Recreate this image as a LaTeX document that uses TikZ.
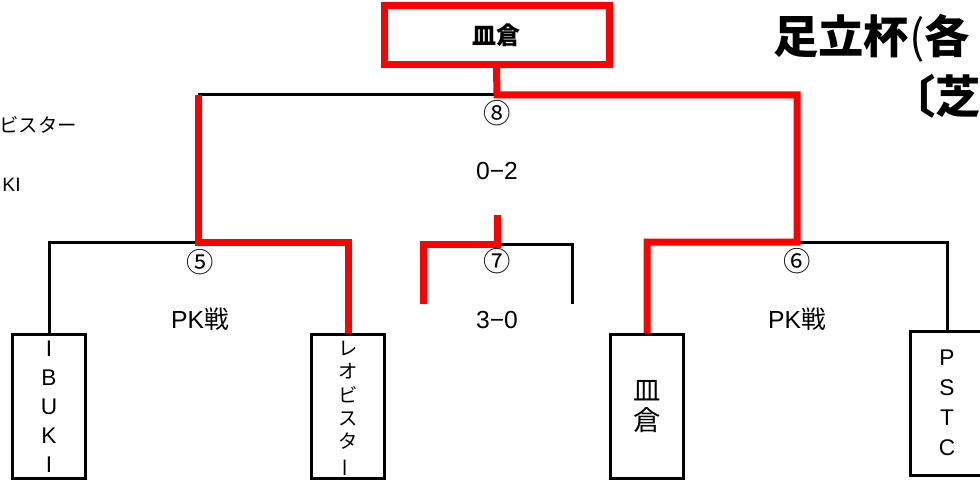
\documentclass[tikz,border=0pt]{standalone}
\usepackage{fontspec}
\setmainfont{Liberation Sans}
\newfontfamily\cjk{Noto Sans CJK JP}
\begin{document}
\begin{tikzpicture}[x=0.75pt,y=-0.75pt,
  blk/.style={draw=black,line width=2.25pt},
  win/.style={draw=red,line width=5.25pt},
  team/.style={draw=black,line width=2.25pt,fill=white,minimum width=55pt,minimum height=108pt,inner sep=0pt,align=center},
  lbl/.style={inner sep=0pt,font=\fontsize{18.5}{20}\selectfont},
  num/.style={inner sep=0pt,font=\cjk\fontsize{20.5}{22}\selectfont},
  side/.style={inner sep=0pt,anchor=east,font=\fontsize{14.5}{18}\selectfont},
  ttl/.style={inner sep=0pt,anchor=west,font=\cjk\fontsize{34}{38}\selectfont\bfseries}]
\useasboundingbox (0,0) rectangle (980,481);
\clip (0,0) rectangle (980,481);
% title
\node[ttl] (title1) at (773,38) {足立杯{\mdseries (}各};
\node[ttl] (title2) at (890,96) {〔芝};
% side texts
\node[side] (sleo) at (77,125) {\cjk ビスター};
\node[side] (sibuki) at (21,185) {KI};
% final box
\node[draw=red,line width=5.25pt,minimum width=168.75pt,minimum height=44.25pt,inner sep=0pt,font=\cjk\fontsize{18}{20}\selectfont\bfseries] (final) at (496.5,35) {皿倉};
% teams
\node[team,font=\fontsize{17}{21.75}\selectfont] (ibuki) at (49,406.5) {I\\B\\U\\K\\I};
\node[team,font=\cjk\fontsize{14.5}{17.5}\selectfont] (leo) at (348,406.5) {レ\\オ\\ビ\\ス\\タ\\\smash{\rotatebox[origin=c]{90}{ー}}};
\node[team,font=\cjk\fontsize{20.5}{22.5}\selectfont] (sara) at (647,406.5) {皿\\倉};
\node[team,font=\fontsize{17}{22.5}\selectfont] (pstc) at (947,403) {P\\S\\T\\C};
% coordinates
\coordinate (j8) at (497,95);
\coordinate (l8) at (198,95);
\coordinate (r8) at (797,95);
\coordinate (j5) at (198,242);
\coordinate (j6) at (797,242);
\coordinate (t7) at (497,215);
\coordinate (j7) at (497,244);
\coordinate (a7) at (423,304);
\coordinate (b7) at (572,304);
% black lines
\draw[blk] (j8) -- (l8);
\draw[blk] (j5) -| (ibuki.north);
\draw[blk] (j7) -| (b7);
\draw[blk] (j6) -| (pstc.north);
% red lines
\draw[win] (final.south) -- (j8) -- (r8) -- (j6) -| (sara.north);
\draw[win] (l8) -- (j5) -| (leo.north);
\draw[win] (t7) -- (j7) -| (a7);
% labels
\node[num] (n8) at (497,113) {⑧};
\node[lbl] (s8) at (497,171) {0−2};
\node[num] (n5) at (200,262) {⑤};
\node[lbl] (s5) at (200,319) {PK{\cjk 戦}};
\node[num] (n7) at (497,261) {⑦};
\node[lbl] (s7) at (497,320) {3−0};
\node[num] (n6) at (797,261) {⑥};
\node[lbl] (s6) at (797,319) {PK{\cjk 戦}};
\end{tikzpicture}
\end{document}
